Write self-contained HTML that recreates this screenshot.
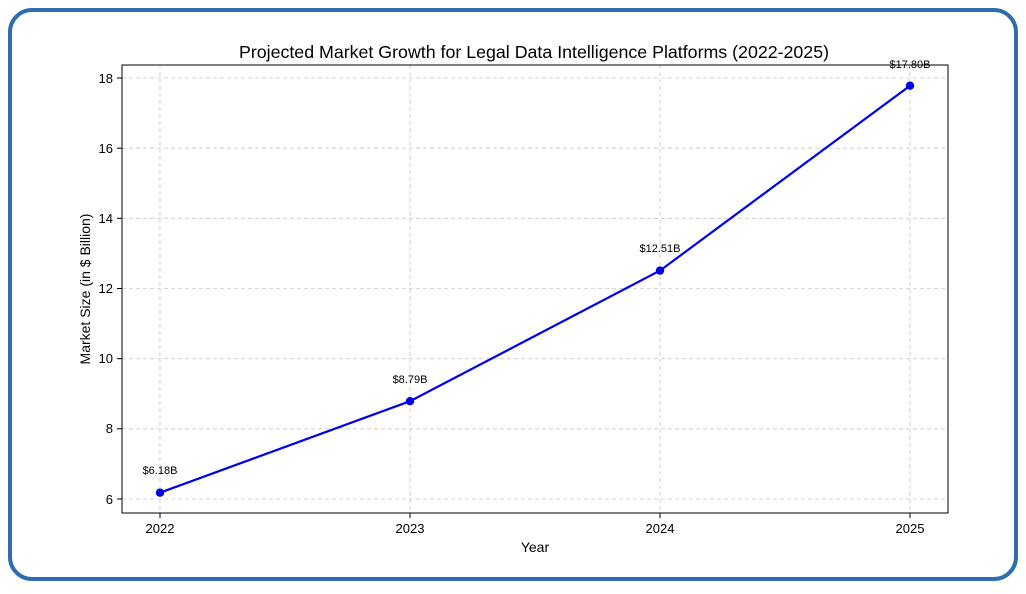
<!DOCTYPE html>
<html><head><style>
body{margin:0;background:#fff;}
svg text{font-family:"Liberation Sans",sans-serif;fill:#000;}
</style></head><body>
<svg width="1026" height="589" viewBox="0 0 1026 589" xmlns="http://www.w3.org/2000/svg">
<rect x="10" y="10" width="1006" height="569" rx="22" ry="22" fill="#fff" stroke="#2e6db0" stroke-width="4"/>
<text x="534" y="58" font-size="17.8" text-anchor="middle">Projected Market Growth for Legal Data Intelligence Platforms (2022-2025)</text>
<g stroke="#c8c8c8" stroke-width="0.8" stroke-dasharray="4,3">
<line x1="160" y1="65" x2="160" y2="513"/>
<line x1="410" y1="65" x2="410" y2="513"/>
<line x1="660" y1="65" x2="660" y2="513"/>
<line x1="910" y1="65" x2="910" y2="513"/>
<line x1="122" y1="78" x2="948" y2="78"/>
<line x1="122" y1="148.2" x2="948" y2="148.2"/>
<line x1="122" y1="218.3" x2="948" y2="218.3"/>
<line x1="122" y1="288.5" x2="948" y2="288.5"/>
<line x1="122" y1="358.7" x2="948" y2="358.7"/>
<line x1="122" y1="428.8" x2="948" y2="428.8"/>
<line x1="122" y1="499" x2="948" y2="499"/>
</g>
<rect x="122" y="65" width="826" height="448" fill="none" stroke="#000" stroke-width="1"/>
<g stroke="#000" stroke-width="1">
<line x1="117" y1="78" x2="122" y2="78"/><line x1="117" y1="148.2" x2="122" y2="148.2"/>
<line x1="117" y1="218.3" x2="122" y2="218.3"/><line x1="117" y1="288.5" x2="122" y2="288.5"/>
<line x1="117" y1="358.7" x2="122" y2="358.7"/><line x1="117" y1="428.8" x2="122" y2="428.8"/>
<line x1="117" y1="499" x2="122" y2="499"/>
<line x1="160" y1="513" x2="160" y2="518"/><line x1="410" y1="513" x2="410" y2="518"/>
<line x1="660" y1="513" x2="660" y2="518"/><line x1="910" y1="513" x2="910" y2="518"/>
</g>
<g font-size="13" text-anchor="end">
<text x="113" y="83">18</text><text x="113" y="153">16</text><text x="113" y="223">14</text>
<text x="113" y="293">12</text><text x="113" y="363">10</text><text x="113" y="433">8</text><text x="113" y="504">6</text>
</g>
<g font-size="13" text-anchor="middle">
<text x="160" y="533">2022</text><text x="410" y="533">2023</text><text x="660" y="533">2024</text><text x="910" y="533">2025</text>
<text x="535" y="552" font-size="14">Year</text>
</g>
<text transform="translate(90,289) rotate(-90)" font-size="14" text-anchor="middle">Market Size (in $ Billion)</text>
<polyline points="160,492.7 410,401.2 660,270.6 910,85.7" fill="none" stroke="#0000ee" stroke-width="2.2"/>
<g fill="#0000ee">
<circle cx="160" cy="492.7" r="4.2"/><circle cx="410" cy="401.2" r="4.2"/>
<circle cx="660" cy="270.6" r="4.2"/><circle cx="910" cy="85.7" r="4.2"/>
</g>
<g font-size="11" text-anchor="middle">
<text x="160" y="474">$6.18B</text><text x="410" y="383">$8.79B</text>
<text x="660" y="252">$12.51B</text><text x="910" y="68">$17.80B</text>
</g>
</svg>
</body></html>
